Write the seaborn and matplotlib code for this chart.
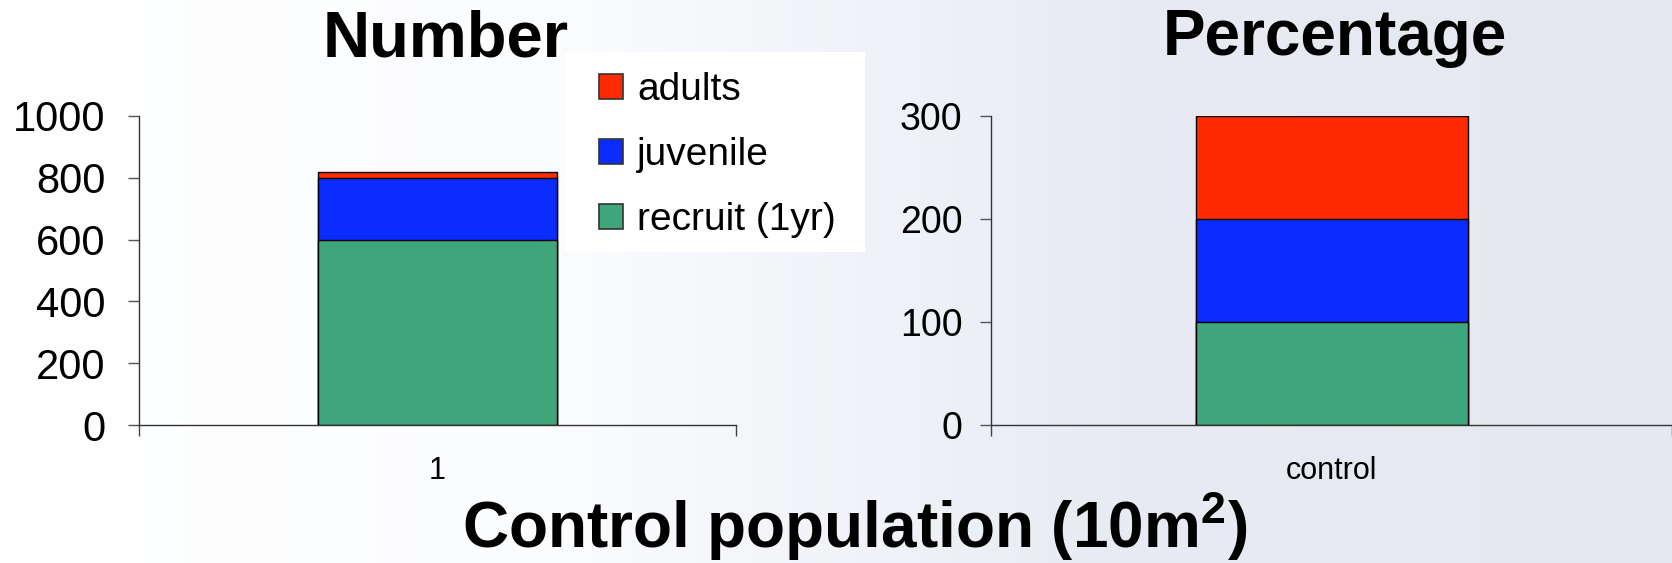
import numpy as np
import pandas as pd
import seaborn as sns
import matplotlib.pyplot as plt
from matplotlib.patches import Patch, Rectangle

# data
stages = ["recruit (1yr)", "juvenile", "adults"]
number_site = ["1"]
number_vals = [600, 200, 20]
pct_site = ["control"]
pct_vals = [100, 100, 100]
colors = {"recruit (1yr)": "#3fa67b", "juvenile": "#0a2cff", "adults": "#ff2a00"}

sns.set_theme(style="white")
plt.rcParams["font.family"] = ["Liberation Sans", "DejaVu Sans"]
plt.rcParams["mathtext.fontset"] = "custom"
plt.rcParams["mathtext.rm"] = "Liberation Sans"
plt.rcParams["mathtext.bf"] = "Liberation Sans:bold"
plt.rcParams["text.color"] = "black"
plt.rcParams["xtick.color"] = "black"
plt.rcParams["ytick.color"] = "black"

fig = plt.figure(figsize=(16.72, 5.63), dpi=100)

# faded background, white on the left to pale blue-grey on the right
bg = fig.add_axes([0, 0, 1, 1])
grad = np.linspace(0, 1, 256).reshape(1, -1)
bg.imshow(grad, aspect="auto",
          cmap=sns.blend_palette(["#ffffff", "#fbfcfe", "#e8ebf3", "#e5e8ef"], as_cmap=True),
          extent=[0, 1, 0, 1])
bg.axis("off")


def stacked(ax, site, vals, ymax, step, fs, pad):
    cum = np.cumsum(vals)
    # draw from the top of the stack down so the lower parts overlay
    for stage, top in reversed(list(zip(stages, cum))):
        df = pd.DataFrame({"site": site, "value": [top]})
        sns.barplot(data=df, x="site", y="value", color=colors[stage], saturation=1,
                    width=0.4, edgecolor="black", linewidth=1, ax=ax)
    ax.set_xlim(-0.5, 0.5)
    ax.set_ylim(0, ymax)
    ax.set_yticks(np.arange(0, ymax + 1, step))
    ax.set_xlabel("")
    ax.set_ylabel("")
    ax.patch.set_alpha(0)
    for s in ["top", "right"]:
        ax.spines[s].set_visible(False)
    for s in ["left", "bottom"]:
        ax.spines[s].set_color("#333333")
        ax.spines[s].set_linewidth(1)
    ax.tick_params(axis="y", which="major", left=True, length=8, width=1,
                   color="#555555", labelsize=fs, pad=pad, labelcolor="black")
    ax.tick_params(axis="x", which="major", bottom=False, labelsize=22, pad=16,
                   labelcolor="black")
    ax.set_xticks([-0.5, 0.5], minor=True)
    ax.tick_params(axis="x", which="minor", bottom=True, length=8, width=1, color="#444444")


ax1 = fig.add_axes([0.0831, 0.2451, 0.357, 0.549])
stacked(ax1, number_site, number_vals, 1000, 200, 30, 16)

ax2 = fig.add_axes([0.593, 0.2451, 0.407, 0.549])
stacked(ax2, pct_site, pct_vals, 300, 100, 27, 13)
ax2.spines["bottom"].set_bounds(-0.5, 0.6)

# white legend panel
fig.patches.append(Rectangle((0.3379, 0.5524), 0.1794, 0.3552, transform=fig.transFigure,
                             facecolor="white", edgecolor="none", zorder=2))
handles = [Patch(facecolor=colors[s], edgecolor="#333333", linewidth=1.2) for s in reversed(stages)]
leg = fig.legend(handles, list(reversed(stages)), loc="upper left",
                 bbox_to_anchor=(0.3583, 0.872), borderaxespad=0, borderpad=0,
                 fontsize=28, frameon=False, handlelength=0.62, handleheight=0.62,
                 handletextpad=0.36, labelspacing=0.75)
leg.set_zorder(3)

fig.text(0.2667, 0.899, "Number", ha="center", va="baseline", fontsize=47,
         fontweight="bold", zorder=10)
fig.text(0.7985, 0.902, "Percentage", ha="center", va="baseline", fontsize=46,
         fontweight="bold")
fig.text(0.5114, 0.0266, "Control population (10m$^\\mathbf{2}$)", ha="center",
         va="baseline", fontsize=46, fontweight="bold")

fig.savefig("out.png", dpi=100)
